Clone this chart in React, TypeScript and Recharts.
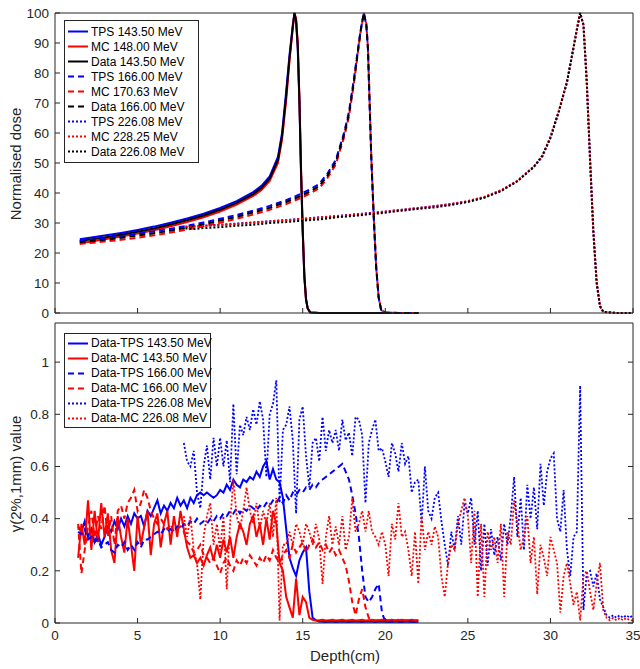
import { LineChart, Line, XAxis, YAxis } from 'recharts'

// ---- depth-dose curves (top panel) ----
const depth143 = [1.5, 2, 3, 4, 5, 6, 7, 8, 9, 10, 11, 12, 12.5, 13, 13.5, 13.75, 14, 14.2, 14.4, 14.5, 14.6, 14.7, 14.8, 14.9, 15, 15.1, 15.2, 15.3, 15.45, 16, 18, 20, 22]
const tps143 = [24.6, 25.0, 25.8, 26.7, 27.7, 28.8, 30.1, 31.5, 33.1, 35.0, 37.3, 40.3, 42.4, 45.5, 52.0, 60.0, 74, 86, 96, 100, 97, 88, 70, 46, 27, 12, 4.5, 1.5, 0.2, 0, 0, 0, 0]
const mc143 = [23.3, 23.7, 24.6, 25.5, 26.5, 27.6, 28.9, 30.3, 31.9, 33.8, 36.1, 39.0, 41.0, 44.0, 50.0, 58.0, 71, 84, 95, 100, 98, 90, 72, 48, 28, 12.5, 4.7, 1.6, 0.2, 0, 0, 0, 0]
const data143 = [24.0, 24.4, 25.2, 26.1, 27.1, 28.2, 29.5, 30.9, 32.5, 34.4, 36.7, 39.6, 41.7, 44.8, 51.0, 59.0, 72.5, 85, 95.5, 100, 97.5, 89, 71, 47, 27.5, 12.2, 4.6, 1.5, 0.2, 0, 0, 0, 0]

const depth166 = [1.5, 2, 3, 4, 5, 6, 7, 8, 9, 10, 11, 12, 13, 14, 15, 15.5, 16, 16.5, 17, 17.5, 17.8, 18.1, 18.3, 18.5, 18.7, 18.85, 18.95, 19.05, 19.15, 19.3, 19.45, 19.6, 19.75, 20, 21, 22]
const tps166 = [24.0, 24.3, 24.9, 25.6, 26.4, 27.2, 28.1, 29.1, 30.2, 31.4, 32.7, 34.1, 35.7, 37.6, 40.0, 41.4, 43.0, 46.5, 51.0, 60.0, 67.0, 78.0, 86.0, 94.0, 100, 96, 88, 70, 52, 32, 15, 5, 1, 0.1, 0, 0]
const mc166 = [23.0, 23.3, 23.8, 24.4, 25.1, 25.9, 26.8, 27.8, 28.9, 30.1, 31.4, 32.8, 34.4, 36.3, 38.6, 40.0, 41.6, 45.0, 49.5, 58.5, 65.5, 76.5, 85.0, 93.5, 100, 96.5, 88.5, 70.5, 52.5, 32.5, 15.5, 5.2, 1.1, 0.1, 0, 0]
const data166 = [23.6, 23.9, 24.4, 25.1, 25.8, 26.6, 27.5, 28.5, 29.6, 30.8, 32.1, 33.5, 35.1, 37.0, 39.3, 40.7, 42.3, 45.8, 50.3, 59.3, 66.3, 77.3, 85.5, 93.8, 100, 96.2, 88.2, 70.2, 52.2, 32.2, 15.2, 5.1, 1.0, 0.1, 0, 0]

const depth226 = [7.9, 8.5, 9, 10, 11, 12, 13, 14, 15, 16, 17, 18, 19, 20, 21, 22, 23, 24, 25, 26, 27, 28, 29, 29.5, 30, 30.5, 31, 31.3, 31.6, 31.8, 32, 32.2, 32.4, 32.6, 32.8, 33, 33.2, 34, 35]
const tps226 = [28.8, 28.9, 29.1, 29.4, 29.8, 30.2, 30.6, 31.0, 31.4, 31.9, 32.3, 32.8, 33.3, 33.8, 34.4, 35.0, 35.6, 36.3, 37.2, 38.6, 40.8, 44.0, 48.8, 52.0, 58.5, 67.0, 77.0, 85.5, 94.5, 100, 96, 77, 51, 27, 10, 2.3, 0.4, 0, 0]
const mc226 = [28.6, 28.8, 29.0, 29.3, 29.7, 30.1, 30.5, 30.9, 31.3, 31.8, 32.2, 32.7, 33.2, 33.8, 34.4, 35.0, 35.7, 36.4, 37.3, 38.7, 40.9, 44.1, 48.9, 52.2, 58.7, 67.2, 77.2, 85.7, 94.6, 100, 96, 77.2, 51.3, 27.2, 10.1, 2.4, 0.4, 0, 0]
const data226 = [28.2, 28.0, 28.3, 28.6, 29.1, 29.4, 30.0, 30.3, 30.8, 31.2, 31.9, 32.3, 32.9, 33.4, 34.1, 34.7, 35.2, 36.0, 37.0, 38.4, 40.6, 43.9, 48.7, 52.4, 58.3, 67.1, 76.8, 85.6, 94.4, 100, 96.1, 76.9, 51.1, 27.1, 10.0, 2.3, 0.4, 0, 0]

// ---- gamma index (bottom panel) ----
const gammaDepthA = [
  1.4, 1.6, 1.8, 2, 2.2, 2.4, 2.6, 2.8, 3, 3.2,
  3.4, 3.6, 3.8, 4, 4.2, 4.4, 4.6, 4.8, 5, 5.2,
  5.4, 5.6, 5.8, 6, 6.2, 6.4, 6.6, 6.8, 7, 7.2,
  7.4, 7.6, 7.8, 8, 8.2, 8.4, 8.6, 8.8, 9, 9.2,
  9.4, 9.6, 9.8, 10, 10.2, 10.4, 10.6, 10.8, 11, 11.2,
  11.4, 11.6, 11.8, 12, 12.2, 12.4, 12.6, 12.8, 13, 13.2,
  13.4, 13.6, 13.8, 14, 14.2, 14.4, 14.6, 14.8, 15, 15.2,
  15.4, 15.6, 15.8, 16, 16.2, 16.4, 16.6, 16.8, 17, 17.2,
  17.4, 17.6, 17.8, 18, 18.2, 18.4, 18.6, 18.8, 19, 19.2,
  19.4, 19.6, 19.8, 20, 20.2, 20.4, 20.6, 20.8, 21, 21.2,
  21.4, 21.6, 21.8, 22,
]
const gTps143 = [
  0.37, 0.35, 0.39, 0.33, 0.36, 0.31, 0.34, 0.30, 0.33, 0.37,
  0.35, 0.39, 0.36, 0.40, 0.37, 0.41, 0.38, 0.42, 0.40, 0.41,
  0.37, 0.43, 0.41, 0.44, 0.47, 0.42, 0.45, 0.43, 0.46, 0.44,
  0.48, 0.45, 0.47, 0.44, 0.48, 0.46, 0.49, 0.50, 0.49, 0.50,
  0.49, 0.48, 0.49, 0.51, 0.50, 0.53, 0.51, 0.55, 0.53, 0.52,
  0.55, 0.54, 0.56, 0.55, 0.58, 0.56, 0.60, 0.62, 0.55, 0.59,
  0.55, 0.54, 0.48, 0.36, 0.25, 0.21, 0.18, 0.24, 0.27, 0.29,
  0.12, 0.02, 0.01, 0.006, 0.005, 0.004, 0.006, 0.005, 0.004, 0.005,
  0.006, 0.005, 0.004, 0.005, 0.006, 0.005, 0.004, 0.005, 0.006, 0.005,
  0.004, 0.005, 0.006, 0.005, 0.004, 0.005, 0.006, 0.005, 0.004, 0.005,
  0.006, 0.005, 0.004, 0.005,
]
const gMc143 = [
  0.25, 0.38, 0.30, 0.47, 0.28, 0.43, 0.31, 0.46, 0.33, 0.42,
  0.28, 0.23, 0.41, 0.33, 0.27, 0.40, 0.30, 0.20, 0.41, 0.30,
  0.37, 0.43, 0.26, 0.38, 0.42, 0.29, 0.38, 0.43, 0.30, 0.41,
  0.33, 0.43, 0.36, 0.29, 0.25, 0.26, 0.23, 0.25, 0.22, 0.26,
  0.29, 0.24, 0.30, 0.25, 0.32, 0.27, 0.33, 0.25, 0.33, 0.38,
  0.35, 0.30, 0.38, 0.41, 0.33, 0.38, 0.30, 0.40, 0.32, 0.43,
  0.38, 0.23, 0.20, 0.10, 0.06, 0.02, 0.17, 0.03, 0.10, 0.08,
  0.02, 0.012, 0.01, 0.011, 0.012, 0.01, 0.011, 0.012, 0.01, 0.011,
  0.012, 0.01, 0.011, 0.012, 0.01, 0.011, 0.012, 0.01, 0.011, 0.012,
  0.01, 0.011, 0.012, 0.01, 0.011, 0.012, 0.01, 0.011, 0.012, 0.01,
  0.011, 0.012, 0.01, 0.011,
]
const gTps166 = [
  0.35, 0.34, 0.36, 0.32, 0.33, 0.31, 0.32, 0.29, 0.30, 0.31,
  0.28, 0.27, 0.30, 0.29, 0.31, 0.28, 0.30, 0.28, 0.31, 0.29,
  0.32, 0.32, 0.33, 0.34, 0.35, 0.34, 0.36, 0.35, 0.36, 0.35,
  0.37, 0.36, 0.38, 0.37, 0.39, 0.38, 0.40, 0.38, 0.39, 0.38,
  0.40, 0.39, 0.41, 0.40, 0.42, 0.41, 0.43, 0.42, 0.44, 0.42,
  0.44, 0.43, 0.45, 0.44, 0.43, 0.45, 0.44, 0.46, 0.45, 0.47,
  0.46, 0.48, 0.46, 0.49, 0.47, 0.50, 0.49, 0.51, 0.50, 0.52,
  0.51, 0.53, 0.52, 0.54, 0.55, 0.56, 0.57, 0.58, 0.59, 0.60,
  0.61, 0.58, 0.55, 0.49, 0.42, 0.33, 0.20, 0.10, 0.08, 0.10,
  0.13, 0.15, 0.04, 0.005, 0.004, 0.005, 0.006, 0.005, 0.004, 0.005,
  0.006, 0.005, 0.004, 0.005,
]
const gMc166 = [
  0.38, 0.19, 0.28, 0.37, 0.43, 0.33, 0.41, 0.36, 0.45, 0.33,
  0.41, 0.30, 0.43, 0.45, 0.40, 0.46, 0.48, 0.51, 0.43, 0.46,
  0.51, 0.48, 0.43, 0.40, 0.38, 0.40, 0.38, 0.36, 0.38, 0.35,
  0.36, 0.37, 0.35, 0.31, 0.30, 0.27, 0.28, 0.30, 0.26, 0.25,
  0.23, 0.25, 0.22, 0.19, 0.23, 0.25, 0.22, 0.20, 0.24, 0.22,
  0.25, 0.23, 0.26, 0.24, 0.22, 0.25, 0.23, 0.26, 0.24, 0.28,
  0.25, 0.23, 0.26, 0.28, 0.25, 0.30, 0.27, 0.29, 0.31, 0.27,
  0.30, 0.32, 0.29, 0.31, 0.28, 0.30, 0.27, 0.29, 0.26, 0.28,
  0.25, 0.22, 0.16, 0.08, 0.03, 0.09, 0.13, 0.06, 0.02, 0.01,
  0.01, 0.011, 0.01, 0.012, 0.01, 0.011, 0.01, 0.012, 0.01, 0.011,
  0.01, 0.012, 0.01, 0.011,
]

const gammaDepthB = [
  7.8, 8, 8.2, 8.4, 8.6, 8.8, 9, 9.2, 9.4, 9.6,
  9.8, 10, 10.2, 10.4, 10.6, 10.8, 11, 11.2, 11.4, 11.6,
  11.8, 12, 12.2, 12.4, 12.6, 12.8, 13, 13.2, 13.4, 13.6,
  13.8, 14, 14.2, 14.4, 14.6, 14.8, 15, 15.2, 15.4, 15.6,
  15.8, 16, 16.2, 16.4, 16.6, 16.8, 17, 17.2, 17.4, 17.6,
  17.8, 18, 18.2, 18.4, 18.6, 18.8, 19, 19.2, 19.4, 19.6,
  19.8, 20, 20.2, 20.4, 20.6, 20.8, 21, 21.2, 21.4, 21.6,
  21.8, 22, 22.2, 22.4, 22.6, 22.8, 23, 23.2, 23.4, 23.6,
  23.8, 24, 24.2, 24.4, 24.6, 24.8, 25, 25.2, 25.4, 25.6,
  25.8, 26, 26.2, 26.4, 26.6, 26.8, 27, 27.2, 27.4, 27.6,
  27.8, 28, 28.2, 28.4, 28.6, 28.8, 29, 29.2, 29.4, 29.6,
  29.8, 30, 30.2, 30.4, 30.6, 30.8, 31, 31.2, 31.4, 31.6,
  31.8, 32, 32.2, 32.4, 32.6, 32.8, 33, 33.2, 33.4, 33.6,
  33.8, 34, 34.2, 34.4, 34.6, 34.8, 35,
]
const gTps226 = [
  0.69, 0.62, 0.60, 0.66, 0.50, 0.44, 0.60, 0.68, 0.55, 0.71,
  0.60, 0.71, 0.60, 0.70, 0.54, 0.84, 0.57, 0.76, 0.72, 0.79,
  0.74, 0.82, 0.76, 0.85, 0.78, 0.56, 0.80, 0.84, 0.93, 0.46,
  0.74, 0.76, 0.83, 0.70, 0.42, 0.78, 0.83, 0.64, 0.52, 0.69,
  0.71, 0.62, 0.79, 0.66, 0.74, 0.69, 0.74, 0.66, 0.78, 0.70,
  0.73, 0.64, 0.79, 0.78, 0.72, 0.46, 0.69, 0.74, 0.78, 0.66,
  0.67, 0.62, 0.56, 0.69, 0.65, 0.58, 0.69, 0.61, 0.64, 0.50,
  0.54, 0.55, 0.38, 0.60, 0.43, 0.40, 0.48, 0.50, 0.39, 0.30,
  0.22, 0.35, 0.28, 0.41, 0.30, 0.46, 0.42, 0.48, 0.30, 0.43,
  0.20, 0.38, 0.22, 0.36, 0.26, 0.33, 0.24, 0.38, 0.30, 0.41,
  0.56, 0.33, 0.48, 0.28, 0.53, 0.40, 0.52, 0.36, 0.61, 0.45,
  0.58, 0.63, 0.65, 0.40, 0.35, 0.51, 0.28, 0.18, 0.33, 0.35,
  0.91, 0.05, 0.19, 0.20, 0.14, 0.19, 0.09, 0.06, 0.03, 0.02,
  0.03, 0.02, 0.03, 0.02, 0.03, 0.02, 0.03,
]
const gMc226 = [
  0.41, 0.33, 0.41, 0.28, 0.23, 0.09, 0.33, 0.41, 0.46, 0.30,
  0.38, 0.28, 0.41, 0.13, 0.38, 0.55, 0.41, 0.36, 0.43, 0.52,
  0.43, 0.38, 0.46, 0.36, 0.43, 0.38, 0.46, 0.33, 0.48, 0.01,
  0.30, 0.30, 0.35, 0.30, 0.38, 0.35, 0.30, 0.38, 0.35, 0.30,
  0.38, 0.32, 0.15, 0.33, 0.41, 0.30, 0.37, 0.30, 0.41, 0.28,
  0.33, 0.48, 0.35, 0.38, 0.43, 0.35, 0.43, 0.35, 0.33, 0.30,
  0.35, 0.30, 0.18, 0.38, 0.32, 0.46, 0.33, 0.35, 0.28, 0.18,
  0.35, 0.15, 0.41, 0.28, 0.35, 0.30, 0.37, 0.33, 0.18, 0.10,
  0.23, 0.30, 0.28, 0.38, 0.43, 0.48, 0.41, 0.23, 0.43, 0.10,
  0.38, 0.10, 0.35, 0.28, 0.33, 0.23, 0.38, 0.10, 0.35, 0.30,
  0.47, 0.38, 0.28, 0.33, 0.41, 0.23, 0.33, 0.11, 0.30, 0.25,
  0.18, 0.33, 0.28, 0.23, 0.04, 0.18, 0.23, 0.15, 0.07, 0.12,
  0.01, 0.18, 0.20, 0.12, 0.05, 0.15, 0.23, 0.05, 0.02, 0.01,
  0.02, 0.01, 0.02, 0.01, 0.02, 0.01, 0.01,
]

const depthTicks = [0, 5, 10, 15, 20, 25, 30, 35]
const doseTicks = [0, 10, 20, 30, 40, 50, 60, 70, 80, 90, 100]
const gammaTicks = [0, 0.2, 0.4, 0.6, 0.8, 1]

const FONT = '"Liberation Sans", Arial, Helvetica, sans-serif'
const AXIS = '#262626'
const BLUE = '#0000ff'
const RED = '#ff0000'
const BLACK = '#000000'
const DASH = '6 4'
const DOT = '2 2'

type Pt = { d: number; v: number }
type Series = { name: string; color: string; dash?: string; data: Pt[] }

const zip = (xs: number[], ys: number[]): Pt[] => xs.map((d, i) => ({ d, v: ys[i] }))

const doseSeries: Series[] = [
  { name: 'TPS 143.50 MeV', color: BLUE, data: zip(depth143, tps143) },
  { name: 'MC 148.00 MeV', color: RED, data: zip(depth143, mc143) },
  { name: 'Data 143.50 MeV', color: BLACK, data: zip(depth143, data143) },
  { name: 'TPS 166.00 MeV', color: BLUE, dash: DASH, data: zip(depth166, tps166) },
  { name: 'MC 170.63 MeV', color: RED, dash: DASH, data: zip(depth166, mc166) },
  { name: 'Data 166.00 MeV', color: BLACK, dash: DASH, data: zip(depth166, data166) },
  { name: 'TPS 226.08 MeV', color: BLUE, dash: DOT, data: zip(depth226, tps226) },
  { name: 'MC 228.25 MeV', color: RED, dash: DOT, data: zip(depth226, mc226) },
  { name: 'Data 226.08 MeV', color: BLACK, dash: DOT, data: zip(depth226, data226) },
]

const gammaSeries: Series[] = [
  { name: 'Data-TPS 143.50 MeV', color: BLUE, data: zip(gammaDepthA, gTps143) },
  { name: 'Data-MC 143.50 MeV', color: RED, data: zip(gammaDepthA, gMc143) },
  { name: 'Data-TPS 166.00 MeV', color: BLUE, dash: DASH, data: zip(gammaDepthA, gTps166) },
  { name: 'Data-MC 166.00 MeV', color: RED, dash: DASH, data: zip(gammaDepthA, gMc166) },
  { name: 'Data-TPS 226.08 MeV', color: BLUE, dash: DOT, data: zip(gammaDepthB, gTps226) },
  { name: 'Data-MC 226.08 MeV', color: RED, dash: DOT, data: zip(gammaDepthB, gMc226) },
]

const tickStyle = { fill: AXIS, fontSize: 13.5, fontFamily: FONT }
const lineStyle = { stroke: AXIS, strokeWidth: 1 }
const noLabel = () => ''

function LegendBox({ items, left, top, width, pad }: { items: Series[]; left: number; top: number; width: number; pad: number }) {
  return (
    <div
      style={{
        position: 'absolute', left, top, width, boxSizing: 'border-box',
        border: `1px solid ${AXIS}`, background: '#fff', padding: `${pad}px 0`,
      }}
    >
      {items.map((s) => (
        <div key={s.name} style={{ display: 'flex', alignItems: 'center', height: 15 }}>
          <svg width={26} height={15} style={{ flex: 'none' }}>
            <line x1={3} x2={23} y1={7.5} y2={7.5} stroke={s.color} strokeWidth={2} strokeDasharray={s.dash} />
          </svg>
          <span style={{ fontSize: 12, color: '#000', whiteSpace: 'nowrap' }}>{s.name}</span>
        </div>
      ))}
    </div>
  )
}

function AxisTitle({ text, x, y, rotate }: { text: string; x: number; y: number; rotate?: boolean }) {
  return (
    <div
      style={{
        position: 'absolute', left: x, top: y, fontSize: 15, color: AXIS, whiteSpace: 'nowrap', lineHeight: 1,
        transform: `translate(-50%, -50%)${rotate ? ' rotate(-90deg)' : ''}`,
      }}
    >
      {text}
    </div>
  )
}

export default function App() {
  return (
    <div style={{ position: 'absolute', left: 0, top: 0, width: 640, height: 669, background: '#fff', fontFamily: FONT }}>
      <div style={{ position: 'absolute', left: 0, top: 0 }}>
        <LineChart width={640} height={320} margin={{ top: 12, right: 6, bottom: 6, left: 8 }}>
          <XAxis xAxisId="b" type="number" dataKey="d" domain={[0, 35]} ticks={depthTicks} interval={0} tickFormatter={noLabel} tickSize={-5} height={1} axisLine={lineStyle} tickLine={lineStyle} />
          <XAxis xAxisId="t" orientation="top" type="number" dataKey="d" domain={[0, 35]} ticks={depthTicks} interval={0} tickFormatter={noLabel} tickSize={-5} height={1} axisLine={lineStyle} tickLine={lineStyle} />
          <YAxis yAxisId="l" type="number" domain={[0, 100]} ticks={doseTicks} interval={0} width={47} tickSize={-5} tickMargin={11} tick={tickStyle} axisLine={lineStyle} tickLine={lineStyle} />
          <YAxis yAxisId="r" orientation="right" type="number" domain={[0, 100]} ticks={doseTicks} interval={0} width={1} tickFormatter={noLabel} tickSize={-5} axisLine={lineStyle} tickLine={lineStyle} />
          {doseSeries.map((s) => (
            <Line
              key={s.name}
              xAxisId="b"
              yAxisId="l"
              data={s.data}
              dataKey="v"
              name={s.name}
              type="linear"
              stroke={s.color}
              strokeWidth={2}
              strokeDasharray={s.dash}
              dot={false}
              activeDot={false}
              isAnimationActive={false}
            />
          ))}
        </LineChart>
      </div>
      <div style={{ position: 'absolute', left: 0, top: 316 }}>
        <LineChart width={640} height={353} margin={{ top: 6, right: 6, bottom: 16, left: 8 }}>
          <XAxis xAxisId="b" type="number" dataKey="d" domain={[0, 35]} ticks={depthTicks} interval={0} tickSize={-5} tickMargin={12} tick={tickStyle} height={30} axisLine={lineStyle} tickLine={lineStyle} />
          <XAxis xAxisId="t" orientation="top" type="number" dataKey="d" domain={[0, 35]} ticks={depthTicks} interval={0} tickFormatter={noLabel} tickSize={-5} height={1} axisLine={lineStyle} tickLine={lineStyle} />
          <YAxis yAxisId="l" type="number" domain={[0, 1.15]} ticks={gammaTicks} interval={0} width={47} tickSize={-5} tickMargin={11} tick={tickStyle} axisLine={lineStyle} tickLine={lineStyle} allowDataOverflow />
          <YAxis yAxisId="r" orientation="right" type="number" domain={[0, 1.15]} ticks={gammaTicks} interval={0} width={1} tickFormatter={noLabel} tickSize={-5} axisLine={lineStyle} tickLine={lineStyle} allowDataOverflow />
          {gammaSeries.map((s) => (
            <Line
              key={s.name}
              xAxisId="b"
              yAxisId="l"
              data={s.data}
              dataKey="v"
              name={s.name}
              type="linear"
              stroke={s.color}
              strokeWidth={s.dash === DOT ? 1.8 : 2}
              strokeDasharray={s.dash}
              dot={false}
              activeDot={false}
              isAnimationActive={false}
            />
          ))}
        </LineChart>
      </div>
      <LegendBox items={doseSeries} left={64} top={20} width={135} pad={3} />
      <LegendBox items={gammaSeries} left={64} top={333} width={147} pad={1.5} />
      <AxisTitle text="Normalised dose" x={15} y={164} rotate />
      <AxisTitle text="γ(2%,1mm) value" x={15} y={474} rotate />
      <AxisTitle text="Depth(cm)" x={345} y={655} />
    </div>
  )
}
